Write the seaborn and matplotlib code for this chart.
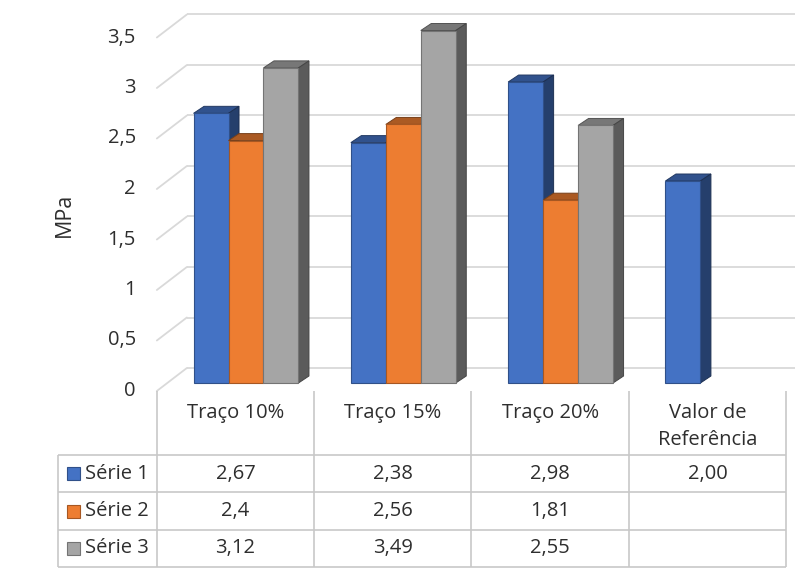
import numpy as np
import pandas as pd
import matplotlib
matplotlib.use("Agg")
import matplotlib.pyplot as plt
from matplotlib.patches import Polygon, Rectangle
from matplotlib.colors import to_rgb
import seaborn as sns

# ---- data -------------------------------------------------------------
categories = ["Traço 10%", "Traço 15%", "Traço 20%", "Valor de\nReferência"]
series_names = ["Série 1", "Série 2", "Série 3"]
serie1 = [2.67, 2.38, 2.98, 2.00]
serie2 = [2.4, 2.56, 1.81, np.nan]
serie3 = [3.12, 3.49, 2.55, np.nan]
# decimal places shown in the data table
decimals1 = [2, 2, 2, 2]
decimals2 = [1, 2, 2, 0]
decimals3 = [2, 2, 2, 0]
yticks = [0, 0.5, 1, 1.5, 2, 2.5, 3, 3.5]
y_label = "MPa"
colors = ["#4472C4", "#ED7D31", "#A5A5A5"]

# ---- style ------------------------------------------------------------
sns.set_theme(style="white")
plt.rcParams["font.family"] = ["Open Sans", "DejaVu Sans"]
TEXT = "#2E2E2E"
GRID = "#D9D9D9"
TABLE_LINE = "#C8C8C8"
FS = 14.5

W, H = 795, 578
fig = plt.figure(figsize=(W / 100, H / 100), dpi=100)
ax = fig.add_axes([0, 0, 1, 1])

# pixel geometry of the plotting plane
PX_X = 157.3          # pixels per category
PX_Y = 101.0          # pixels per MPa
X0_PX, Y0_PX = 246.0, 383.0   # where category 0 / value 0 sit (from top-left)
XLIM = (-X0_PX / PX_X, (W - X0_PX) / PX_X)
YLIM = ((Y0_PX - H) / PX_Y, Y0_PX / PX_Y)


def dx(px):
    return px / PX_X


def dy(px):
    return px / PX_Y


def px_x(px):
    return (px - X0_PX) / PX_X


def px_y(py):
    return (Y0_PX - py) / PX_Y


# depth offsets (pixels) of the front edge, back wall and bar thickness
FRONT = (-10.5, -8.0)
BACK = (19.5, 15.0)
BAR_D = (10.5, 7.0)
LEFT = -0.5

# ---- bars -------------------------------------------------------------
df = pd.DataFrame({
    "categoria": np.repeat(categories, 3),
    "serie": series_names * len(categories),
    "valor": np.ravel(np.column_stack([serie1, serie2, serie3])),
}).dropna()

sns.barplot(data=df, x="categoria", y="valor", hue="serie",
            order=categories, hue_order=series_names, palette=colors,
            saturation=1, width=0.667, errorbar=None, legend=False, ax=ax)

bars = sorted([p for p in ax.patches if np.isfinite(p.get_height())],
              key=lambda p: p.get_x())
for i, p in enumerate(bars):
    x, w, h = p.get_x(), p.get_width(), p.get_height()
    fc = np.array(to_rgb(p.get_facecolor()))
    z = 3 + i
    p.set_zorder(z)
    p.set_edgecolor(tuple(fc * 0.7))
    p.set_linewidth(0.8)
    ox, oy = dx(BAR_D[0]), dy(BAR_D[1])
    top = Polygon([(x, h), (x + w, h), (x + w + ox, h + oy), (x + ox, h + oy)],
                  closed=True, facecolor=tuple(fc * 0.72),
                  edgecolor=tuple(fc * 0.5), linewidth=0.7, zorder=z - 0.5)
    side = Polygon([(x + w, 0), (x + w + ox, oy), (x + w + ox, h + oy), (x + w, h)],
                   closed=True, facecolor=tuple(fc * 0.55),
                   edgecolor=tuple(fc * 0.42), linewidth=0.7, zorder=z - 0.5)
    ax.add_patch(top)
    ax.add_patch(side)

# ---- walls and gridlines ---------------------------------------------
for v in yticks:
    xb, yb = LEFT + dx(BACK[0]), v + dy(BACK[1])
    xf, yf = LEFT + dx(FRONT[0]), v + dy(FRONT[1])
    ax.plot([xb, XLIM[1] + 1], [yb, yb], color=GRID, lw=1.3, zorder=1,
            solid_capstyle="butt")
    ax.plot([xf, xb], [yf, yb], color=GRID, lw=1.3, zorder=1)
    ax.text(xf - dx(21), yf, f"{v:g}".replace(".", ","),
            ha="right", va="center", fontsize=FS, color=TEXT)

ax.text(px_x(64), px_y(215), y_label, rotation=90,
        ha="center", va="center", fontsize=15.5, color=TEXT)

# ---- data table -------------------------------------------------------
def fmt(v, d):
    if not np.isfinite(v):
        return ""
    return f"{v:.{d}f}".replace(".", ",")


rows = [
    [fmt(v, d) for v, d in zip(serie1, decimals1)],
    [fmt(v, d) for v, d in zip(serie2, decimals2)],
    [fmt(v, d) for v, d in zip(serie3, decimals3)],
]

n_cat = len(categories)
col_edges = [LEFT + k + dx(FRONT[0]) for k in range(n_cat + 1)]
t_top = dy(FRONT[1])                    # front edge of the floor
head_bottom = px_y(455)
t_bottom = px_y(567)
key_left = px_x(58)
row_h = (head_bottom - t_bottom) / 3
row_lines = [head_bottom - r * row_h for r in range(4)]

line_kw = dict(color=TABLE_LINE, lw=1.2, zorder=2, solid_capstyle="butt")
for xe in col_edges:
    ax.plot([xe, xe], [t_top, t_bottom], **line_kw)
ax.plot([key_left, key_left], [head_bottom, t_bottom], **line_kw)
for yl in row_lines:
    ax.plot([key_left, col_edges[-1]], [yl, yl], **line_kw)

# column headers (top aligned, one text line per row of the header)
for j, cat in enumerate(categories):
    cx = (col_edges[j] + col_edges[j + 1]) / 2
    for k, line in enumerate(cat.split("\n")):
        ax.text(cx, px_y(413) - dy(27) * k, line, ha="center", va="center",
                fontsize=FS, color=TEXT)

# body rows with legend keys
key_size = 13
for r, name in enumerate(series_names):
    cy = row_lines[r] - row_h / 2
    col = colors[r]
    ax.add_patch(Rectangle((px_x(67), cy - dy(key_size) / 2), dx(key_size),
                           dy(key_size), facecolor=col,
                           edgecolor=tuple(np.array(to_rgb(col)) * 0.7),
                           linewidth=0.8, zorder=5))
    ax.text(px_x(85), cy, name, ha="left", va="center", fontsize=FS,
            color=TEXT)
    for j in range(n_cat):
        cx = (col_edges[j] + col_edges[j + 1]) / 2
        ax.text(cx, cy, rows[r][j], ha="center", va="center", fontsize=FS,
                color=TEXT)

ax.set_xlim(*XLIM)
ax.set_ylim(*YLIM)
ax.axis("off")

fig.savefig("out.png", dpi=100, facecolor="white")
